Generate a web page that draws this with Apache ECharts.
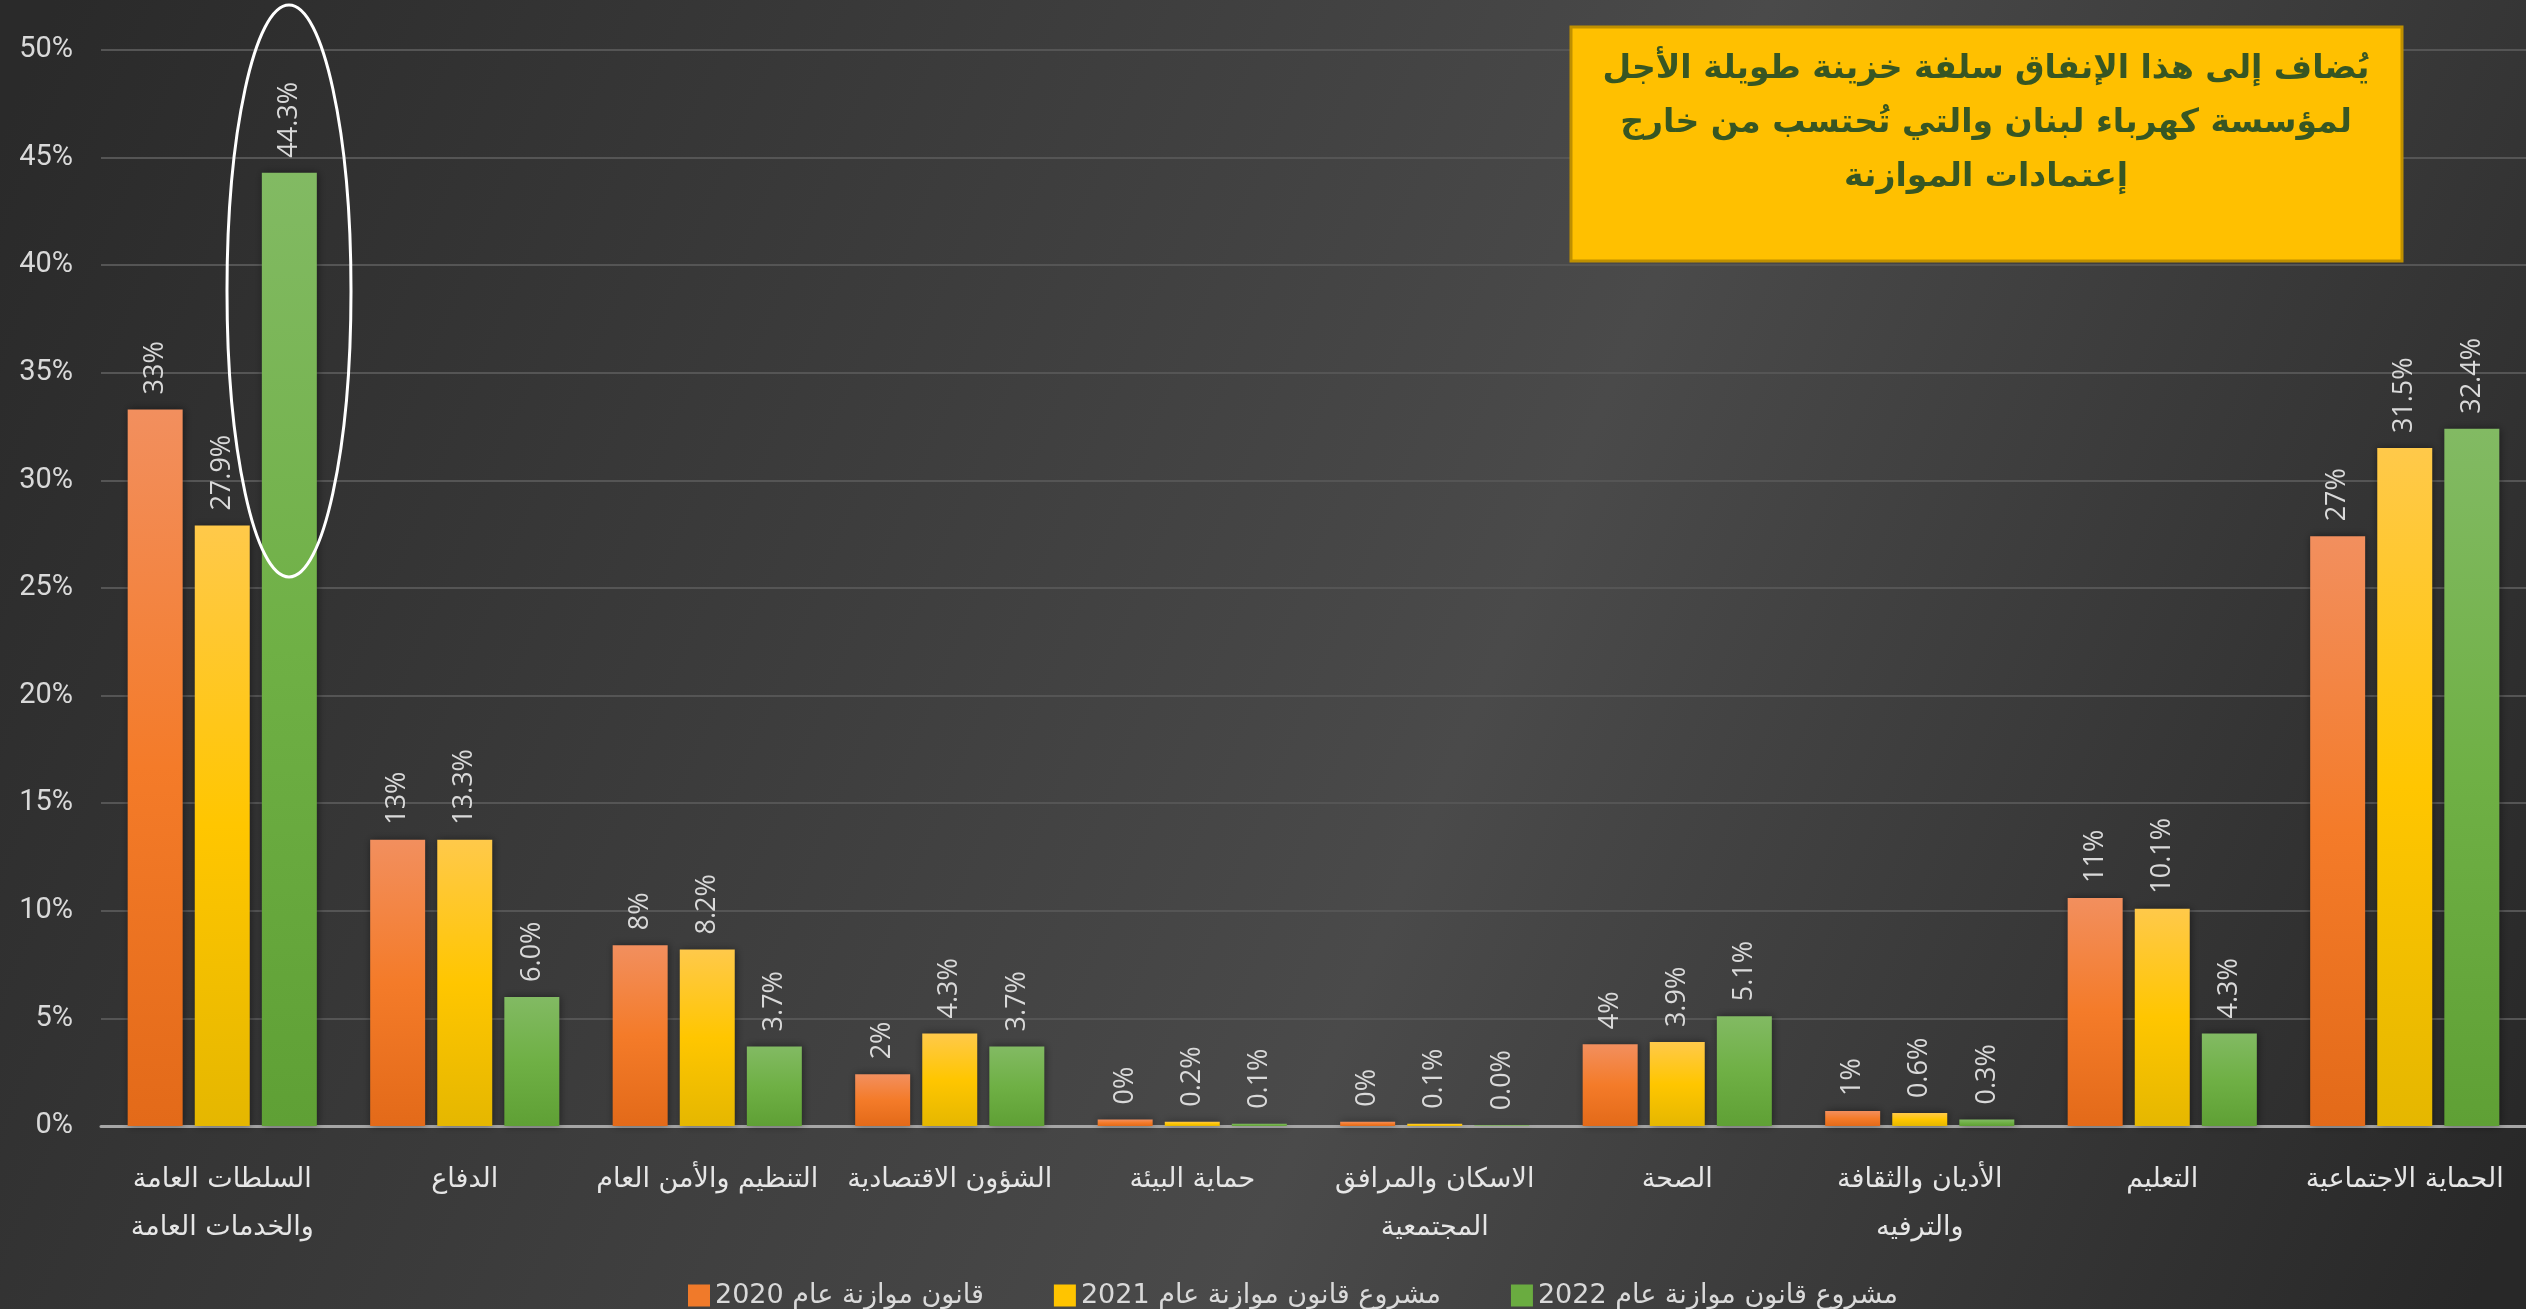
<!DOCTYPE html>
<html>
<head>
<meta charset="utf-8">
<title>توزيع الإنفاق حسب الوظيفة</title>
<script src="https://cdn.jsdelivr.net/npm/echarts@6/dist/echarts.min.js"></script>
<style>
  html, body { margin: 0; padding: 0; background: #333; }
  #chart { width: 2526px; height: 1309px; }
</style>
</head>
<body>
<div id="chart"></div>
<script>
// categories (functions of spending)
var categories = [
  'السلطات العامة\nوالخدمات العامة',
  'الدفاع',
  'التنظيم والأمن العام',
  'الشؤون الاقتصادية',
  'حماية البيئة',
  'الاسكان والمرافق\nالمجتمعية',
  'الصحة',
  'الأديان والثقافة\nوالترفيه',
  'التعليم',
  'الحماية الاجتماعية'
];
var seriesNames = ['قانون موازنة عام 2020', 'مشروع قانون موازنة عام 2021', 'مشروع قانون موازنة عام 2022'];

// share of spending, %
var budget2020 = [33.3, 13.3, 8.4, 2.4, 0.3, 0.2, 3.8, 0.7, 10.6, 27.4];
var budget2021 = [27.9, 13.3, 8.2, 4.3, 0.2, 0.1, 3.9, 0.6, 10.1, 31.5];
var budget2022 = [44.3, 6.0, 3.7, 3.7, 0.1, 0.03, 5.1, 0.3, 4.3, 32.4];

var yTicks = { min: 0, max: 50, step: 5 };

var noteText = 'يُضاف إلى هذا الإنفاق سلفة خزينة طويلة الأجل\nلمؤسسة كهرباء لبنان والتي تُحتسب من خارج\nإعتمادات الموازنة';

function grad(top, mid, bottom) {
  return new echarts.graphic.LinearGradient(0, 0, 0, 1, [
    { offset: 0, color: top },
    { offset: 0.5, color: mid },
    { offset: 1, color: bottom }
  ]);
}

var colors = [
  grad('#f28f5e', '#f47b29', '#e36a19'),
  grad('#ffc94a', '#ffc600', '#e5b700'),
  grad('#82ba63', '#6fb045', '#5fa035')
];
var legendColors = ['#f07a2a', '#ffc400', '#6aac40'];

function makeSeries(name, data, idx, decimals) {
  return {
    name: name,
    type: 'bar',
    data: data,
    barGap: '22%',
    barCategoryGap: '22%',
    itemStyle: {
      color: colors[idx],
      shadowColor: 'rgba(0,0,0,0.45)',
      shadowBlur: 8,
      shadowOffsetX: 1,
      shadowOffsetY: 0
    },
    label: {
      show: true,
      position: 'top',
      rotate: 90,
      align: 'left',
      verticalAlign: 'middle',
      distance: 15,
      color: '#d9d9d9',
      fontFamily: 'Open Sans',
      fontSize: 27,
      formatter: function (p) { return p.value.toFixed(decimals) + '%'; }
    }
  };
}

var chart = echarts.init(document.getElementById('chart'));
chart.setOption({
  animation: false,
  backgroundColor: new echarts.graphic.LinearGradient(0, 0.1, 1, 0.9, [
    { offset: 0, color: '#2a2a2a' },
    { offset: 0.58, color: '#4a4a4a' },
    { offset: 1, color: '#282828' }
  ]),
  grid: { left: 101, right: 0, top: 50, bottom: 183 },
  legend: {
    data: seriesNames.map(function (n, i) {
      return { name: n, itemStyle: { color: legendColors[i] } };
    }),
    left: 683,
    top: 1277,
    icon: 'rect',
    itemWidth: 22,
    itemHeight: 22,
    itemGap: 70,
    textStyle: { color: '#d9d9d9', fontSize: 27, fontFamily: 'DejaVu Sans' }
  },
  xAxis: {
    type: 'category',
    data: categories,
    axisTick: { show: false },
    axisLine: { lineStyle: { color: '#a6a6a6', width: 3 } },
    axisLabel: {
      interval: 0,
      margin: 30,
      color: '#e6e6e6',
      fontSize: 27,
      lineHeight: 48,
      fontFamily: 'DejaVu Sans'
    }
  },
  yAxis: {
    type: 'value',
    min: yTicks.min,
    max: yTicks.max,
    interval: yTicks.step,
    axisLine: { show: false },
    axisTick: { show: false },
    splitLine: { lineStyle: { color: '#555555', width: 2 } },
    axisLabel: {
      formatter: '{value}%',
      color: '#d9d9d9',
      fontSize: 29,
      margin: 28,
      fontFamily: '"Liberation Sans Narrow", Roboto, sans-serif'
    }
  },
  series: [
    makeSeries(seriesNames[0], budget2020, 0, 0),
    makeSeries(seriesNames[1], budget2021, 1, 1),
    makeSeries(seriesNames[2], budget2022, 2, 1)
  ],
  graphic: [
    {
      type: 'ellipse',
      shape: { cx: 289, cy: 291, rx: 62, ry: 286 },
      style: { fill: 'none', stroke: '#ffffff', lineWidth: 3 },
      z: 10
    },
    {
      type: 'rect',
      shape: { x: 1571, y: 27, width: 831, height: 234 },
      style: { fill: '#ffc000', stroke: '#bf9000', lineWidth: 3 },
      z: 10
    },
    {
      type: 'text',
      x: 1986,
      y: 42,
      style: {
        text: noteText,
        fill: '#375623',
        font: 'bold 33px "DejaVu Sans"',
        align: 'center',
        verticalAlign: 'top',
        lineHeight: 54
      },
      z: 11
    }
  ]
});
</script>
</body>
</html>
